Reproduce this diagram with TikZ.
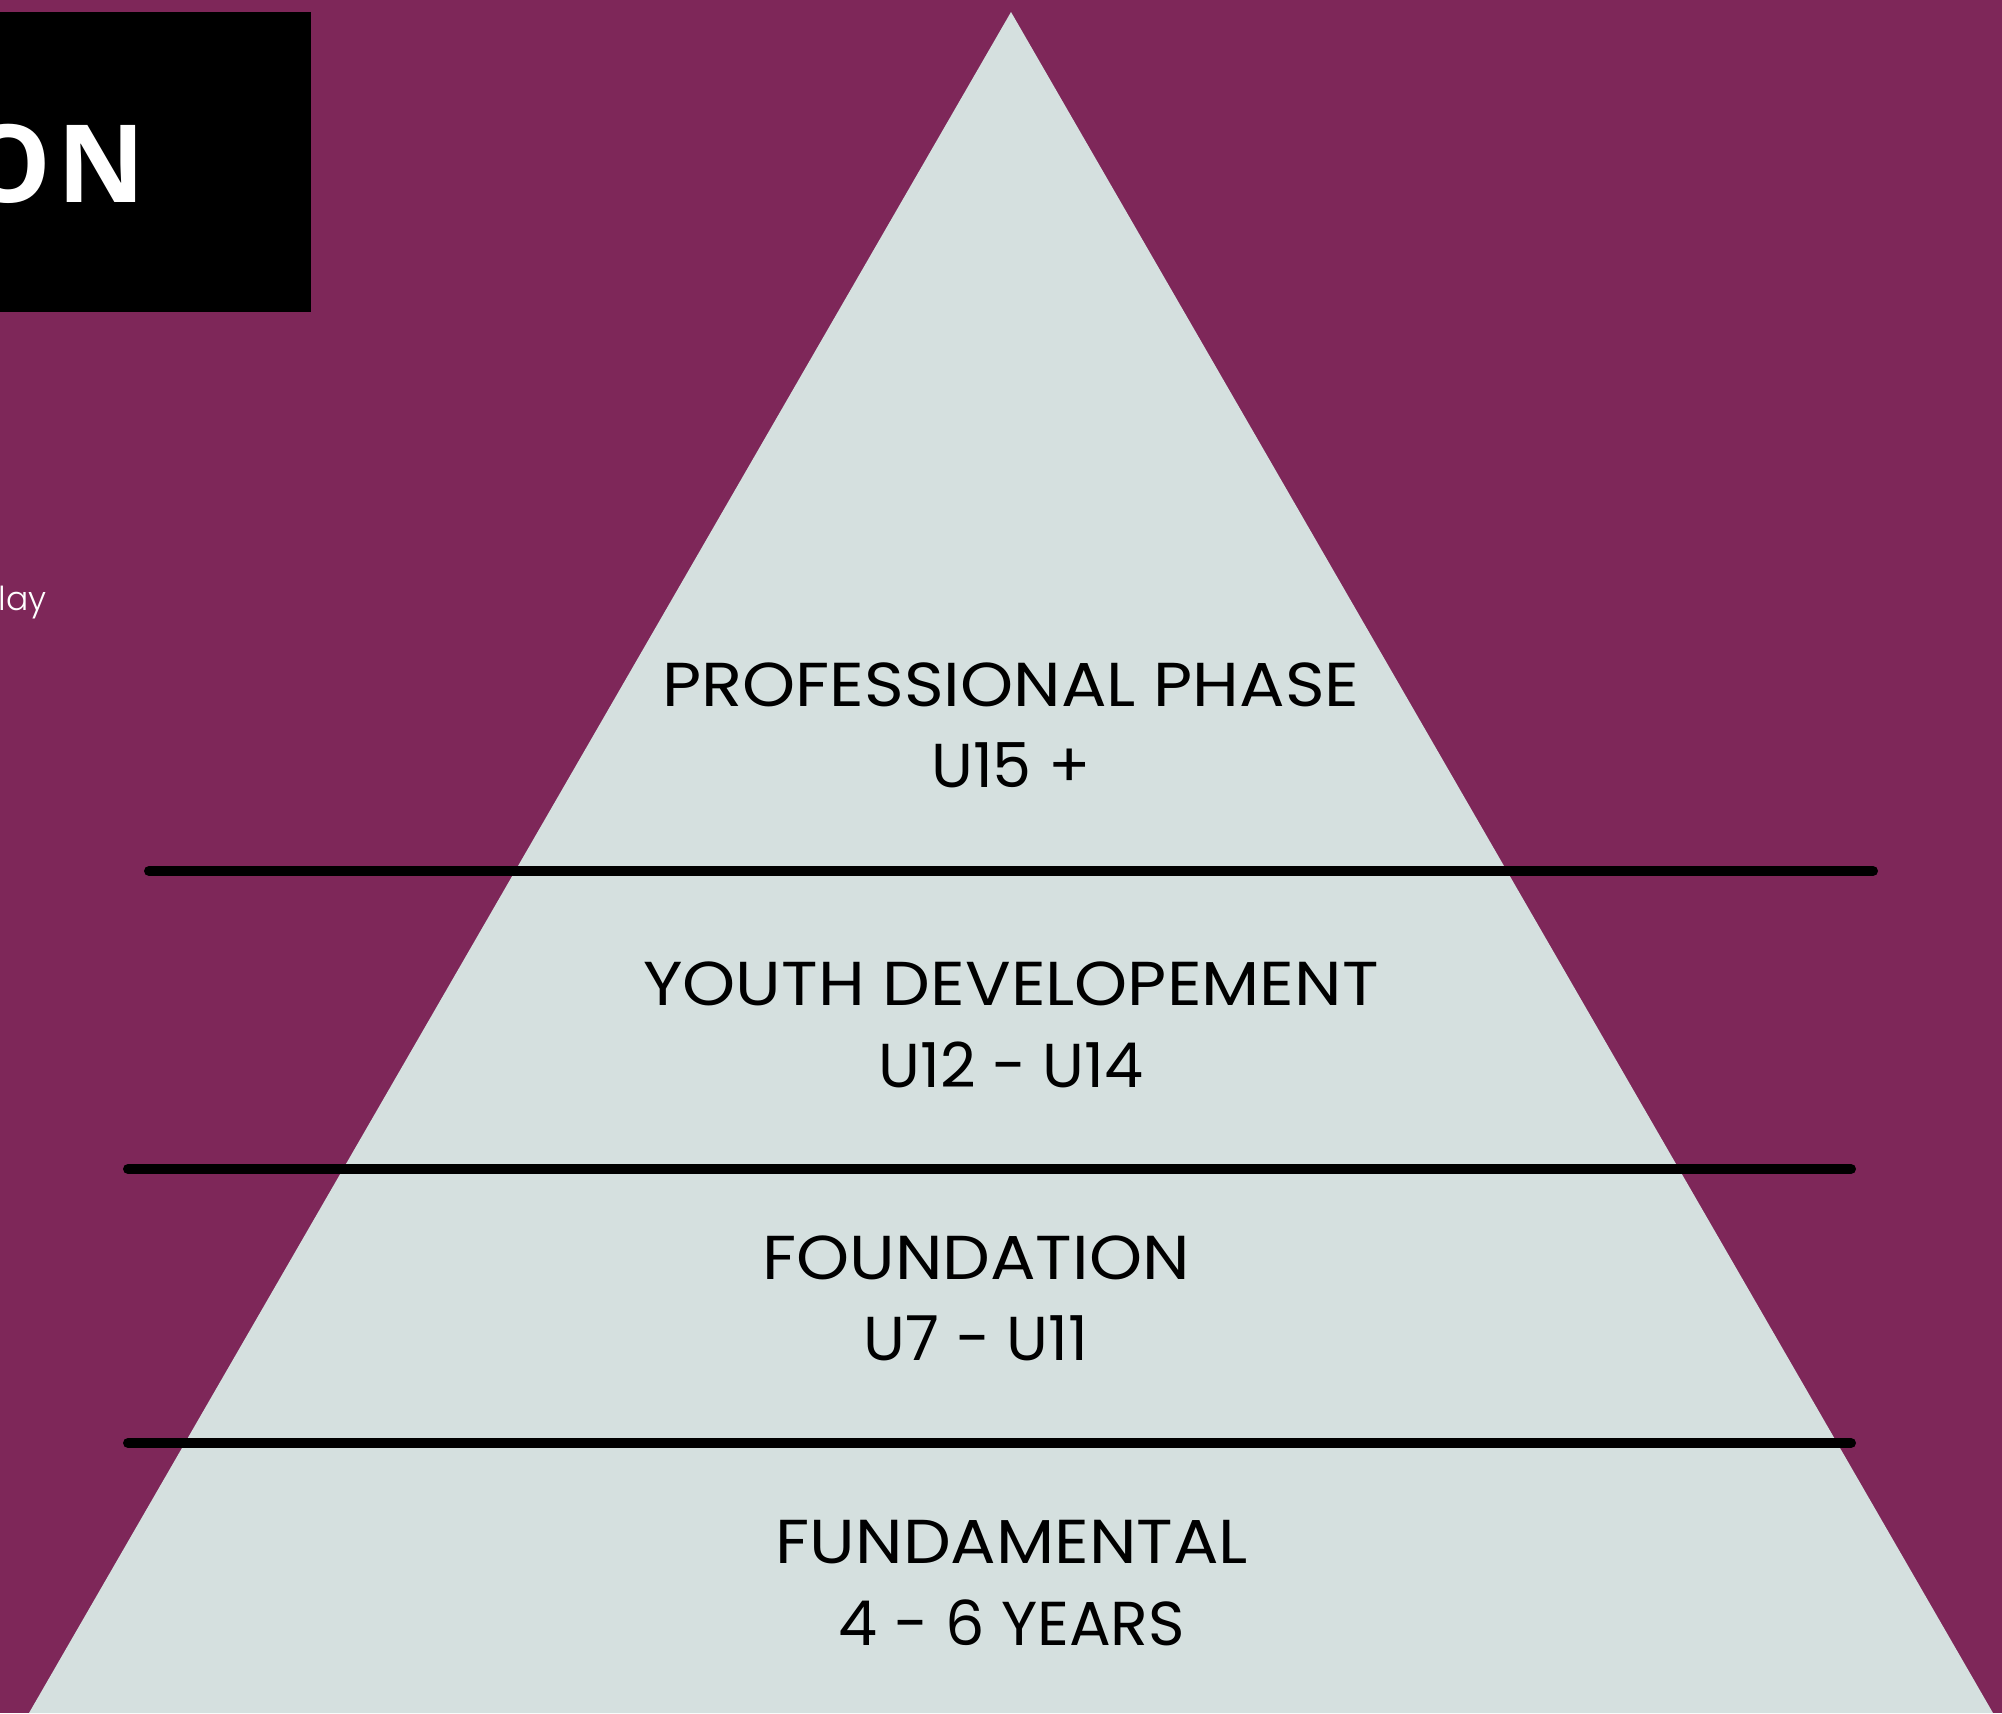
\documentclass[tikz,border=0pt]{standalone}
\usepackage{fontspec}
\setmainfont[FakeStretch=1.09]{Poppins}
\newfontfamily\agefont{Poppins}
\newfontfamily\titlefont[LetterSpace=6]{Open Sans}
\newfontfamily\lightfont{Poppins Light}
\definecolor{bgpurple}{RGB}{126,39,89}
\definecolor{pyrfill}{RGB}{213,224,223}
\begin{document}
\begin{tikzpicture}[x=1pt,y=-1pt,
  label/.style={inner sep=0pt,anchor=base,font=\fontsize{62}{74}\selectfont,text=black},
  agelabel/.style={label,font=\agefont\fontsize{62}{74}\selectfont},
  divider/.style={line width=10pt,line cap=round,black}]
\useasboundingbox (0,0) rectangle (2002,1713);
\fill[bgpurple] (0,0) rectangle (2002,1713);
% title block
\fill[black] (-5,12) rectangle (311,312);
\node[inner sep=0pt,anchor=base east,text=white,font=\titlefont\bfseries\fontsize{108}{120}\selectfont] (title) at (146,202) {ON};
\node[inner sep=0pt,anchor=base west,text=white,font=\lightfont\fontsize{33}{40}\selectfont] (play) at (-24,610) {play};
% pyramid
\coordinate (apex) at (1011,12);
\coordinate (bl) at (29,1713);
\coordinate (br) at (1993,1713);
\fill[pyrfill] (apex) -- (bl) -- (br) -- cycle;
% dividers
\coordinate (d1l) at (149,871);  \coordinate (d1r) at (1873,871);
\coordinate (d2l) at (128,1169); \coordinate (d2r) at (1851,1169);
\coordinate (d3l) at (128,1443); \coordinate (d3r) at (1851,1443);
\draw[divider] (d1l) -- (d1r);
\draw[divider] (d2l) -- (d2r);
\draw[divider] (d3l) -- (d3r);
% labels
\node[label] (pro) at (1011,706) {PROFESSIONAL PHASE};
\node[agelabel] (proage) at (1011,787) {U15 +};
\node[label] (youth) at (1011,1005) {YOUTH DEVELOPEMENT};
\node[agelabel] (youthage) at (1011,1087) {U12 - U14};
\node[label] (found) at (976,1279) {FOUNDATION};
\node[agelabel] (foundage) at (976,1360) {U7 - U11};
\node[label] (fund) at (1012,1563) {FUNDAMENTAL};
\node[agelabel] (fundage) at (1012,1645) {4 - 6 YEARS};
\end{tikzpicture}
\end{document}
